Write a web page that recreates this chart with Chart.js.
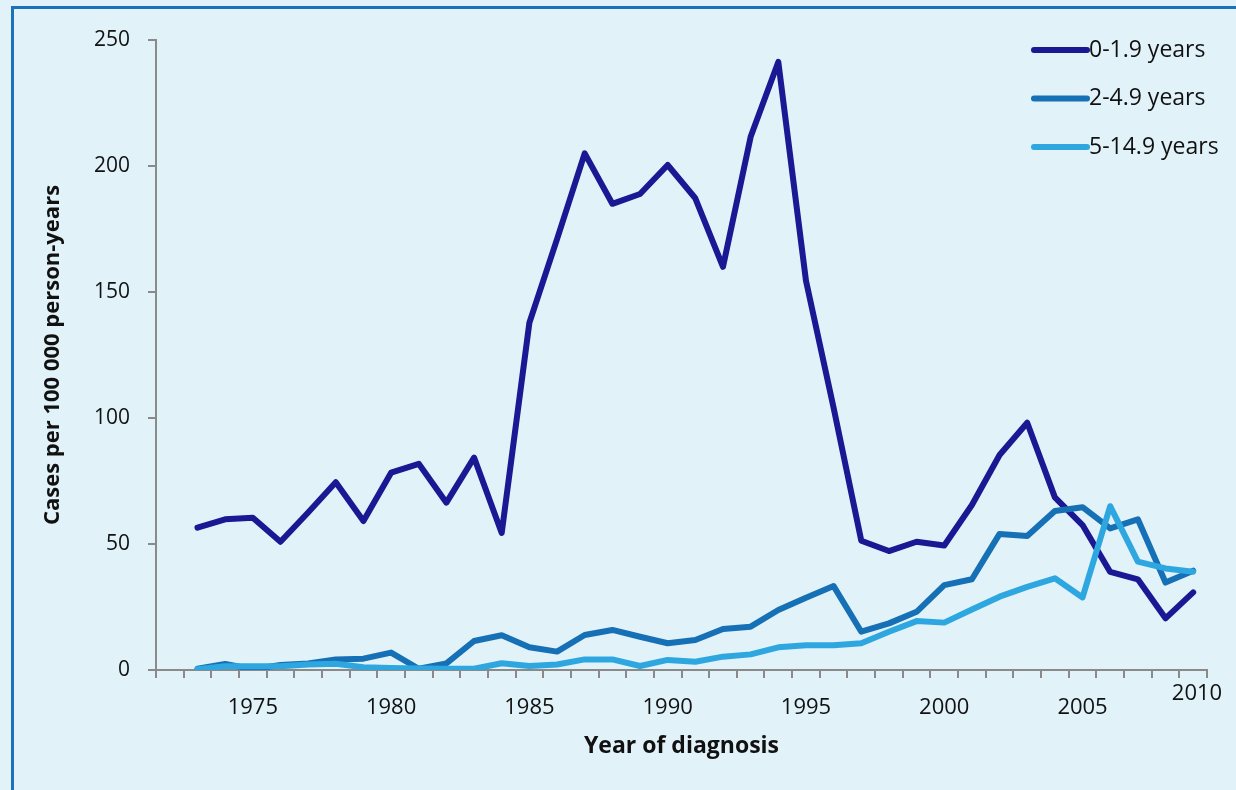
<!DOCTYPE html>
<html>
<head>
<meta charset="utf-8">
<script src="https://cdn.jsdelivr.net/npm/chart.js@4/dist/chart.umd.min.js"></script>
<style>
  html, body { margin: 0; padding: 0; background: #E1F2F9; }
  #wrap { position: relative; width: 1236px; height: 790px; overflow: hidden; }
  #frame { position: absolute; left: 11px; top: 6px; width: 1300px; height: 900px;
           border-left: 3px solid #1C72B9; border-top: 3px solid #1C72B9; box-sizing: border-box; }
  canvas { position: absolute; left: 0; top: 0; }
</style>
</head>
<body>
<div id="wrap">
  <div id="frame"></div>
  <canvas id="c" width="1236" height="790"></canvas>
</div>
<script>
// Categories (years); 1972 is an empty leading category
const years = ['1972','1973','1974','1975','1976','1977','1978','1979','1980','1981','1982','1983','1984','1985','1986','1987','1988','1989','1990','1991','1992','1993','1994','1995','1996','1997','1998','1999','2000','2001','2002','2003','2004','2005','2006','2007','2008','2009'];

const age0to1 = [null, 56.5, 59.8, 60.4, 50.9, 62.5, 74.5, 59.1, 78.3, 81.8, 66.4, 84.3, 54.4, 137.8, 171, 205, 185, 188.9, 200.4, 187.2, 160, 211.6, 241.3, 154.5, 104, 51.3, 47.2, 50.9, 49.4, 65.5, 85.3, 98.1, 68.5, 57.5, 38.9, 36, 20.5, 30.8];
const age2to4 = [null, 0.5, 2.4, 0.3, 2, 2.6, 4.2, 4.5, 6.9, 0.5, 2.6, 11.5, 13.8, 9.0, 7.3, 13.9, 15.9, 13.2, 10.6, 11.9, 16.3, 17.2, 23.8, 28.7, 33.3, 15.2, 18.5, 23.1, 33.7, 36, 54, 53.2, 63.1, 64.6, 56.2, 59.8, 34.7, 39.4];
const age5to14 = [null, 0.3, 1.5, 1.5, 1.5, 2.2, 2.5, 1.1, 0.8, 0.6, 0.5, 0.5, 2.7, 1.6, 2.2, 4.2, 4.2, 1.6, 4, 3.3, 5.3, 6.2, 9, 9.8, 9.8, 10.6, 15.2, 19.4, 18.8, 24, 29.1, 33, 36.4, 28.8, 65, 43, 40.3, 39];

const seriesLabels = ['0-1.9 years', '2-4.9 years', '5-14.9 years'];
const xTickLabels = ['1975','1980','1985','1990','1995','2000','2005','2010'];
const yTicks = [0, 50, 100, 150, 200, 250];

const colors = ['#1B1894', '#1670B5', '#2EA7E0'];
const FONT = '"Open Sans", Lato, sans-serif';

const legendPlugin = {
  id: 'customLegend',
  afterDraw(chart) {
    const ctx = chart.ctx;
    const area = chart.chartArea;
    ctx.save();
    chart.data.datasets.forEach((ds, i) => {
      const y = area.top + 10 + i * 48.5;
      const x0 = area.right - 173, x1 = area.right - 120;
      ctx.strokeStyle = ds.borderColor;
      ctx.lineWidth = 6;
      ctx.lineCap = 'round';
      ctx.beginPath(); ctx.moveTo(x0, y); ctx.lineTo(x1, y); ctx.stroke();
      ctx.fillStyle = '#111';
      ctx.font = '23px ' + FONT;
      ctx.textBaseline = 'middle';
      ctx.textAlign = 'left';
      ctx.fillText(ds.label, x1 + 2, y);
    });
    // end-of-axis tick label(s) not present among the categories
    const xs = chart.scales.x;
    ctx.font = '22px ' + FONT;
    ctx.fillStyle = '#111';
    ctx.textAlign = 'center';
    ctx.textBaseline = 'middle';
    xTickLabels.filter(l => !years.includes(l)).forEach(l => {
      ctx.fillText(l, xs.right - 10, xs.top + 24);
    });
    ctx.restore();
  }
};

new Chart(document.getElementById('c'), {
  type: 'line',
  data: {
    labels: years,
    datasets: [
      { label: seriesLabels[0], data: age0to1, borderColor: colors[0], order: 3 },
      { label: seriesLabels[1], data: age2to4, borderColor: colors[1], order: 2 },
      { label: seriesLabels[2], data: age5to14, borderColor: colors[2], order: 1 }
    ].map(d => Object.assign(d, {
      borderWidth: 6, pointRadius: 0, tension: 0, fill: false,
      borderCapStyle: 'round', borderJoinStyle: 'round', spanGaps: true,
      backgroundColor: d.borderColor
    }))
  },
  options: {
    responsive: false,
    animation: false,
    events: [],
    layout: { padding: { top: 40, right: 29, left: 0, bottom: 0 } },
    plugins: { legend: { display: false }, tooltip: { enabled: false } },
    scales: {
      x: {
        type: 'category',
        offset: true,
        afterFit: s => { s.height = 120; },
        grid: { display: true, offset: true, drawOnChartArea: false, drawTicks: true,
                tickLength: 8, color: '#8A8A8A', lineWidth: 2 },
        border: { display: true, color: '#8A8A8A', width: 2 },
        ticks: {
          autoSkip: false, maxRotation: 0, minRotation: 0, padding: 17,
          color: '#111', font: { family: FONT, size: 22 },
          callback: function(v, i) { const l = years[i]; return xTickLabels.includes(l) ? l : ''; }
        },
        title: { display: true, text: 'Year of diagnosis', color: '#111',
                 font: { family: FONT, size: 23, weight: 'bold' }, padding: { top: 0, bottom: 30 } }
      },
      y: {
        min: 0, max: 250,
        afterFit: s => { s.width = 156; },
        afterBuildTicks: s => { s.ticks = yTicks.map(v => ({ value: v })); },
        grid: { display: true, drawOnChartArea: false, drawTicks: true, tickLength: 8,
                color: '#8A8A8A', lineWidth: 2 },
        border: { display: true, color: '#8A8A8A', width: 2 },
        ticks: { padding: 18, color: '#111', font: { family: FONT, size: 21 } },
        title: { display: true, text: 'Cases per 100 000 person-years', color: '#111',
                 font: { family: FONT, size: 22, weight: 'bold' }, padding: { top: 40, bottom: 0 } }
      }
    }
  },
  plugins: [legendPlugin]
});
</script>
</body>
</html>
